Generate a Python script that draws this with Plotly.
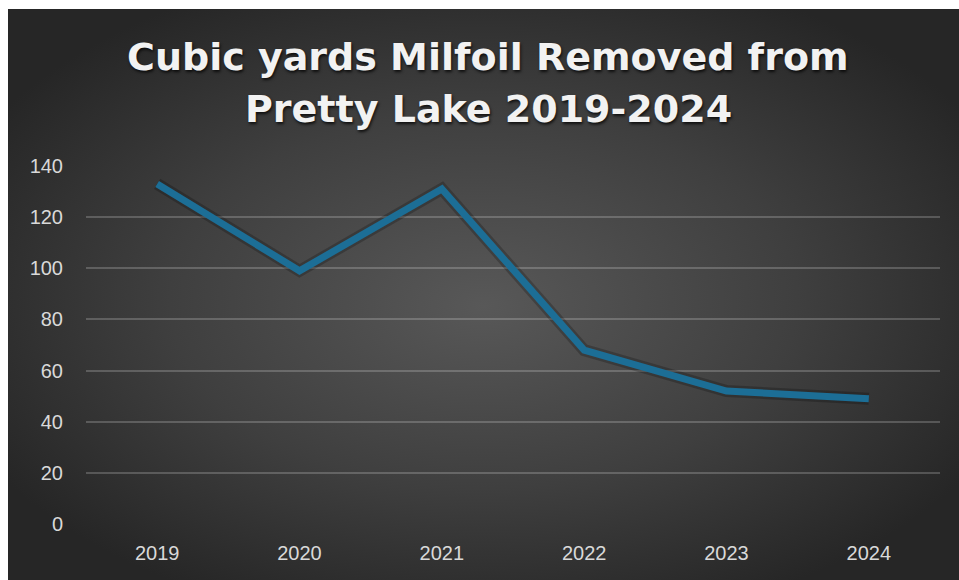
import base64
import plotly.graph_objects as go

years = ["2019", "2020", "2021", "2022", "2023", "2024"]
cubic_yards = [133, 99, 131, 68, 52, 49]
y_ticks = [0, 20, 40, 60, 80, 100, 120, 140]

title_lines = ["Cubic yards Milfoil Removed from", "Pretty Lake 2019-2024"]

W, H = 959, 580
L, R, T, B = 86, 19, 166, 56
pw, ph = W - L - R, H - T - B
BX, BY = 8, 9  # white border on the left and top of the card

GW, GH = W - BX, H - BY
svg = (
    f'<svg xmlns="http://www.w3.org/2000/svg" width="{GW}" height="{GH}" preserveAspectRatio="none">'
    '<defs><radialGradient id="g" cx="50%" cy="50%" r="60%" fx="50%" fy="52%">'
    '<stop offset="0%" stop-color="#585858"/>'
    '<stop offset="55%" stop-color="#3f3f3f"/>'
    '<stop offset="100%" stop-color="#262626"/>'
    '</radialGradient></defs>'
    f'<rect width="{GW}" height="{GH}" fill="url(#g)"/></svg>'
)
src = "data:image/svg+xml;base64," + base64.b64encode(svg.encode()).decode()

fig = go.Figure()
fig.add_trace(go.Scatter(
    x=years, y=cubic_yards, mode="lines",
    line=dict(color="rgba(0,0,0,0.22)", width=12),
    hoverinfo="skip", showlegend=False,
))
fig.add_trace(go.Scatter(
    x=years, y=cubic_yards, mode="lines",
    line=dict(color="#1c6e96", width=7),
    showlegend=False,
))

fig.add_layout_image(dict(
    source=src, xref="paper", yref="paper",
    x=(BX - L) / pw, y=1 + (T - BY) / ph, sizex=GW / pw, sizey=GH / ph,
    xanchor="left", yanchor="top", sizing="stretch", layer="below",
))

title_font = dict(family="DejaVu Sans", size=38, color="#f2f2f2", weight="bold",
                  shadow="1px 2px 3px rgba(0,0,0,0.75)")
centers = [57, 109]  # page-pixel centres of the two title lines
for txt, cy in zip(title_lines, centers):
    fig.add_annotation(
        text=txt, xref="paper", yref="paper",
        x=(488 - L) / pw, y=1 + (T - cy) / ph,
        xanchor="center", yanchor="middle", showarrow=False, font=title_font,
    )

fig.update_layout(
    width=W, height=H,
    margin=dict(l=L, r=R, t=T, b=B),
    paper_bgcolor="white",
    plot_bgcolor="rgba(0,0,0,0)",
    xaxis=dict(
        type="category", range=[-0.5, 5.5], showgrid=False, zeroline=False, showline=False,
        tickfont=dict(family="Liberation Sans", size=20, color="#d9d9d9"),
        ticks="", ticklabelstandoff=15,
    ),
    yaxis=dict(
        range=[0, 140], tickvals=y_ticks, showgrid=True,
        gridcolor="rgba(255,255,255,0.2)", gridwidth=1.5,
        zeroline=False, showline=False,
        tickfont=dict(family="Liberation Sans", size=20, color="#d9d9d9"),
        ticks="", ticklabelstandoff=22,
    ),
)

fig.write_html(
    "out.html",
    config={"displayModeBar": False},
    post_script=(
        "document.body.style.margin='0';"
        "document.documentElement.style.overflow='hidden';"
        "document.body.style.overflow='hidden';"
    ),
)
